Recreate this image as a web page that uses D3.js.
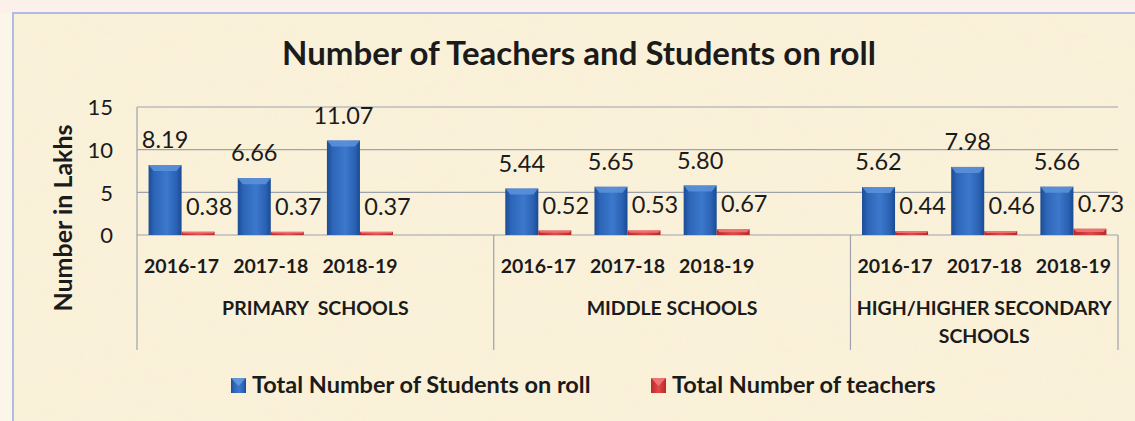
<!DOCTYPE html>
<html>
<head>
<meta charset="utf-8">
<script src="https://cdn.jsdelivr.net/npm/d3@7"></script>
<style>
  html, body { margin: 0; padding: 0; background: #fcf6ea; }
  svg { display: block; }
  text { font-family: Lato, "Open Sans", sans-serif; fill: #1b1b1b; }
</style>
</head>
<body>
<svg id="chart" width="1135" height="421"></svg>
<script>
// ---- data ----
const title = "Number of Teachers and Students on roll";
const yAxisTitle = "Number in Lakhs";
const groups = ["PRIMARY  SCHOOLS", "MIDDLE SCHOOLS", "HIGH/HIGHER SECONDARY SCHOOLS"];
const groupSlots = [4, 4, 3]; // number of category slots per group (Excel blank category after first two)
const years = ["2016-17", "2017-18", "2018-19"];
const students = [[8.19, 6.66, 11.07], [5.44, 5.65, 5.80], [5.62, 7.98, 5.66]];
const teachers = [[0.38, 0.37, 0.37], [0.52, 0.53, 0.67], [0.44, 0.46, 0.73]];
const seriesNames = ["Total Number of Students on roll", "Total Number of teachers"];
const yTicks = [0, 5, 10, 15];

// ---- build categories ----
const cats = [];
groups.forEach((g, gi) => {
  for (let s = 0; s < groupSlots[gi]; s++) {
    const has = s < years.length;
    cats.push({
      key: gi + "-" + s, group: gi,
      year: has ? years[s] : "",
      values: has ? [students[gi][s], teachers[gi][s]] : null
    });
  }
});

const svg = d3.select("#chart");
const W = 1135, H = 421;
const plot = { left: 137, right: 1118, top: 107, bottom: 235, axisBottom: 350 };

// ---- defs ----
const defs = svg.append("defs");
const gb = defs.append("linearGradient").attr("id", "gBlue").attr("x1", 0).attr("x2", 1).attr("y1", 0).attr("y2", 0);
gb.append("stop").attr("offset", "0%").attr("stop-color", "#1c4c96");
gb.append("stop").attr("offset", "18%").attr("stop-color", "#2d66b8");
gb.append("stop").attr("offset", "55%").attr("stop-color", "#3c78cc");
gb.append("stop").attr("offset", "85%").attr("stop-color", "#2a61b2");
gb.append("stop").attr("offset", "100%").attr("stop-color", "#1a4a92");
const gr = defs.append("linearGradient").attr("id", "gRed").attr("x1", 0).attr("x2", 1).attr("y1", 0).attr("y2", 0);
gr.append("stop").attr("offset", "0%").attr("stop-color", "#b82a2a");
gr.append("stop").attr("offset", "50%").attr("stop-color", "#e24848");
gr.append("stop").attr("offset", "100%").attr("stop-color", "#b82a2a");

const f = defs.append("filter").attr("id", "paper").attr("x", 0).attr("y", 0).attr("width", 1).attr("height", 1);
f.append("feTurbulence").attr("type", "fractalNoise").attr("baseFrequency", "0.012 0.03").attr("numOctaves", 3).attr("seed", 7).attr("result", "n");
f.append("feColorMatrix").attr("in", "n").attr("type", "matrix")
  .attr("values", "0 0 0 0 0.95  0 0 0 0 0.88  0 0 0 0 0.72  0 0 0 0.45 -0.16")
  .attr("result", "c");
f.append("feComposite").attr("in", "c").attr("in2", "SourceGraphic").attr("operator", "in").attr("result", "m");
f.append("feMerge").call(m => { m.append("feMergeNode").attr("in", "SourceGraphic"); m.append("feMergeNode").attr("in", "m"); });

// ---- background ----
svg.append("rect").attr("width", W).attr("height", H).attr("fill", "#fcf6ea");
svg.append("rect").attr("x", 0).attr("y", 0).attr("width", W).attr("height", 13).attr("fill", "#fcf1ea");
svg.append("rect").attr("x", 13).attr("y", 13).attr("width", W).attr("height", H)
  .attr("fill", "#faf1d9").attr("filter", "url(#paper)");
svg.append("rect").attr("x", 13).attr("y", 13).attr("width", W).attr("height", H)
  .attr("fill", "none").attr("stroke", "#aebbe4").attr("stroke-width", 2);

// ---- scales ----
const x = d3.scaleBand().domain(cats.map(c => c.key)).range([plot.left, plot.right]).paddingInner(0).paddingOuter(0);
const xs = d3.scaleBand().domain([0, 1]).range([0, x.bandwidth()]).paddingInner(0).paddingOuter(0.35);
const y = d3.scaleLinear().domain([0, 15]).range([plot.bottom, plot.top]);

// ---- gridlines ----
svg.append("g").selectAll("line").data(yTicks).join("line")
  .attr("x1", plot.left).attr("x2", plot.right)
  .attr("y1", d => y(d)).attr("y2", d => y(d))
  .attr("stroke", "#9ea2ad").attr("stroke-width", 1.2);

// y axis via d3.axisLeft (text only)
const yAx = svg.append("g").attr("transform", `translate(${plot.left - 24},0)`)
  .call(d3.axisLeft(y).tickValues(yTicks).tickSize(0).tickPadding(0));
yAx.select(".domain").remove();
yAx.selectAll("text").attr("font-size", 22).attr("font-family", "Lato, sans-serif").attr("fill", "#1b1b1b").attr("dy", "0.36em");

// axis line on left + group separators
svg.append("line").attr("x1", plot.left).attr("x2", plot.left).attr("y1", plot.top).attr("y2", plot.axisBottom)
  .attr("stroke", "#9ea2ad").attr("stroke-width", 1.2);
const sepX = [];
let acc = 0;
groups.forEach((g, gi) => { acc += groupSlots[gi]; sepX.push(acc < cats.length ? x(cats[acc].key) : plot.right); });
svg.append("g").selectAll("line").data(sepX).join("line")
  .attr("x1", d => d).attr("x2", d => d).attr("y1", plot.bottom).attr("y2", plot.axisBottom)
  .attr("stroke", "#9ea2ad").attr("stroke-width", 1.2);

// ---- bars ----
const barData = [];
cats.forEach(c => {
  if (!c.values) return;
  c.values.forEach((v, si) => barData.push({ cat: c, si, v }));
});
const bars = svg.append("g");
bars.selectAll("rect.bar").data(barData).join("rect").attr("class", "bar")
  .attr("x", d => x(d.cat.key) + xs(d.si))
  .attr("width", xs.bandwidth())
  .attr("y", d => y(d.v))
  .attr("height", d => y(0) - y(d.v))
  .attr("fill", d => d.si === 0 ? "url(#gBlue)" : "url(#gRed)");
// top bevel
bars.selectAll("path.bevel").data(barData).join("path").attr("class", "bevel")
  .attr("d", d => {
    const x0 = x(d.cat.key) + xs(d.si), w = xs.bandwidth(), t = y(d.v);
    const h = Math.min(6, (y(0) - t) / 2), i = Math.min(5, h);
    return `M${x0},${t}H${x0 + w}L${x0 + w - i},${t + h}H${x0 + i}Z`;
  })
  .attr("fill", d => d.si === 0 ? "#5d93da" : "#f27a7a").attr("opacity", 0.85);

// ---- data labels ----
const fmt = d3.format(".2f");
svg.append("g").selectAll("text").data(barData).join("text")
  .attr("x", d => x(d.cat.key) + xs(d.si) + xs.bandwidth() / 2 + (d.si === 1 ? 11 : 0))
  .attr("y", d => y(d.v) - 17)
  .attr("text-anchor", "middle")
  .attr("font-size", 23.5)
  .text(d => fmt(d.v));

// ---- year labels ----
svg.append("g").selectAll("text").data(cats.filter(c => c.year)).join("text")
  .attr("x", d => x(d.key) + x.bandwidth() / 2)
  .attr("y", 273)
  .attr("text-anchor", "middle")
  .attr("font-size", 19.5).attr("font-weight", 700)
  .text(d => d.year);

// ---- group labels (wrapped) ----
acc = 0;
groups.forEach((g, gi) => {
  const x0 = x(cats[acc].key);
  const x1 = gi < groups.length - 1 ? x(cats[acc + groupSlots[gi]].key) : plot.right;
  acc += groupSlots[gi];
  const t = svg.append("text").attr("x", (x0 + x1) / 2).attr("y", 315)
    .attr("text-anchor", "middle").attr("font-size", 19.5).attr("font-weight", 700)
    .attr("xml:space", "preserve");
  const maxW = x1 - x0 + 4;
  const words = g.split(" ");
  let line = [];
  let ts = t.append("tspan").attr("x", (x0 + x1) / 2).attr("dy", 0);
  words.forEach(w => {
    line.push(w);
    ts.text(line.join(" "));
    if (ts.node().getComputedTextLength() > maxW && line.length > 1) {
      line.pop(); ts.text(line.join(" "));
      line = [w];
      ts = t.append("tspan").attr("x", (x0 + x1) / 2).attr("dy", 28).text(w);
    }
  });
});

// ---- title ----
svg.append("text").attr("x", 579).attr("y", 65).attr("text-anchor", "middle")
  .attr("font-size", 33).attr("font-weight", 700).text(title);

// ---- y axis title ----
svg.append("text").attr("transform", "translate(72,218) rotate(-90)")
  .attr("text-anchor", "middle").attr("font-size", 25).attr("font-weight", 700).text(yAxisTitle);

// ---- legend ----
const legend = svg.append("g");
const legX = [231, 651];
seriesNames.forEach((s, i) => {
  const g = legend.append("g").attr("transform", `translate(${legX[i]},378)`);
  g.append("rect").attr("width", 15).attr("height", 15).attr("fill", i === 0 ? "url(#gBlue)" : "url(#gRed)");
  g.append("path").attr("d", "M0,0H15L7.5,8Z").attr("fill", i === 0 ? "#6a9ee0" : "#f48080").attr("opacity", 0.8);
  g.append("text").attr("x", 21).attr("y", 15).attr("font-size", 23.5).attr("font-weight", 700).text(s);
});
</script>
</body>
</html>
